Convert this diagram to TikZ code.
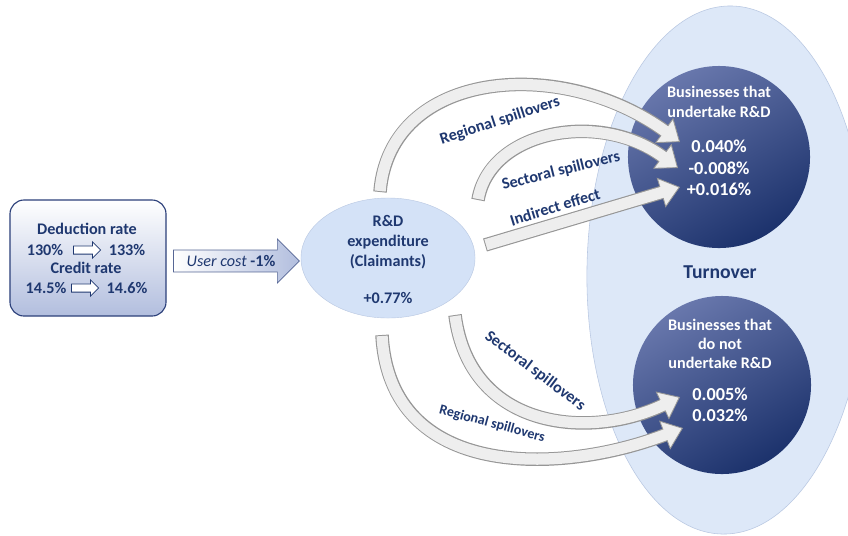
\documentclass[tikz,border=0pt]{standalone}
\usepackage{fontspec}
\setmainfont{Carlito}
\usetikzlibrary{math}
\usetikzlibrary{shapes.geometric,shapes.arrows}
\usetikzlibrary{arrows.meta,positioning}
\usepackage{xcolor}

\definecolor{navy}{RGB}{31,56,112}
\definecolor{turnfill}{RGB}{221,232,248}
\definecolor{turnline}{RGB}{185,200,226}
\definecolor{rdfill}{RGB}{212,226,247}
\definecolor{bizlight}{RGB}{104,119,172}
\definecolor{bizdark}{RGB}{28,50,108}
\definecolor{boxfill}{RGB}{178,190,222}
\definecolor{boxline}{RGB}{44,64,122}
\definecolor{arrowfill}{RGB}{238,238,238}
\definecolor{arrowline}{RGB}{150,150,150}

\newcommand{\spillarrow}[1]{%
  \draw[spill out] #1;
  \draw[spill in] #1;
}

\begin{document}
\begin{tikzpicture}[x=0.025cm,y=-0.025cm,
  font=\fontsize{11.5}{14.2}\selectfont\bfseries, text=navy]

\tikzmath{
	\D = 4.55cm;
	\d = 4.45cm;
}

\tikzset{bizcircle/.style={
    circle, minimum size=#1, inner sep=0pt,
    top color=bizlight, bottom color=bizdark, shading angle=30
  },
  bizcircle/.default=\D,
  biztext/.style={text=white, align=center, inner sep=0pt},
  spill out/.style={line width=9.6pt, draw=arrowline,
    -{Triangle[width=22pt,length=14pt,fill=arrowfill,line width=0.6pt]}},
  spill in/.style={line width=8pt, draw=arrowfill,
    shorten >=12.8pt, shorten <=0.7pt},
  spilltext/.style={inner sep=0pt},
  smallarrow/.style={single arrow, draw=navy, fill=white, line width=0.6pt,
    minimum height=0.68cm, inner xsep=0pt, inner ysep=2.6pt,
    single arrow head extend=0.1cm}
}

\useasboundingbox (0,0) rectangle (848,535);
\clip (0,0) rectangle (848,535);
\fill[white] (0,0) rectangle (848,535);

% turnover area
\node[ellipse, minimum width=7cm, minimum height=13.2cm, rotate=-1,
  fill=turnfill, draw=turnline] (turnarea) at (727,270) {};
\node[font=\fontsize{14}{16}\selectfont\bfseries] (turnover) at (720,272) {Turnover};
\node[bizcircle] (rdfirms) at (719,157) {};
\node[bizcircle=\d] (nordfirms) at (722,385) {};

% R&D expenditure
\node[ellipse, minimum width=4.35cm, minimum height=3cm,
  fill=rdfill, draw=turnline, line width=0.3pt] (rd) at (388,258) {};
\node[align=center, inner sep=0pt] (rdtext) at (388,242) {R\&D\\expenditure\\(Claimants)};
\node[inner sep=0pt] (rdval) at (388,298) {+0.77\%};

% tax rates box
\node[rounded corners=10pt, minimum width=3.9cm, minimum height=2.9cm,
  draw=boxline, line width=0.8pt, top color=white, bottom color=boxfill] (rates) at (88,258) {};
\node (dedrate) at (87,229) {Deduction rate};
\node (ded1) at (45,250) {130\%};
\node[smallarrow] (dedarrow) at (85,250) {};
\node (ded2) at (127,250) {133\%};
\node (credrate) at (86,268) {Credit rate};
\node (cred1) at (46,288) {14.5\%};
\node[smallarrow] (credarrow) at (83,288) {};
\node (cred2) at (127,288) {14.6\%};

% user cost
\node[single arrow, minimum height=3.15cm, single arrow head extend=0.28cm,
  inner ysep=3.5pt, draw=boxline!80, line width=0.5pt,
  left color=white, right color=boxfill] (usercost) at (231,261)
  {{\mdseries\itshape User cost} -1\%};

% spillover arrows
\coordinate (s1) at ([shift={(-8,-66)}]rd.center);
\coordinate (s2) at ([shift={(90,-58)}]rd.center);
\coordinate (s3) at ([shift={(97,-13)}]rd.center);
\coordinate (s4) at ([shift={(67,57)}]rd.center);
\coordinate (s5) at ([shift={(-6,77)}]rd.center);
\coordinate (e1) at ([shift={(-39,-15)}]rdfirms.center);
\coordinate (e2) at ([shift={(-41,11)}]rdfirms.center);
\coordinate (e3) at ([shift={(-39,30)}]rdfirms.center);
\coordinate (e4) at ([shift={(-42,12)}]nordfirms.center);
\coordinate (e5) at ([shift={(-39,43)}]nordfirms.center);

\spillarrow{(s1) .. controls +(10,-122) and +(-120,-87) .. (e1)}
\spillarrow{(s2) .. controls +(12,-70) and +(-78,-58) .. (e2)}
\spillarrow{(s3) -- (e3)}
\spillarrow{(s4) .. controls +(15,115) and +(-90,43) .. (e4)}
\spillarrow{(s5) .. controls +(8,145) and +(-123,47) .. (e5)}

\node[spilltext, rotate=18] (regtop) at (500,121) {Regional spillovers};
\node[spilltext, rotate=14] (sectop) at (561,171) {Sectoral spillovers};
\node[spilltext, rotate=17] (indirect) at (555,207) {Indirect effect};
\node[spilltext, rotate=-37] (secbot) at (535,371) {Sectoral spillovers};
\node[spilltext, rotate=-15, font=\fontsize{10}{12}\selectfont\bfseries] (regbot) at (492,424) {Regional spillovers};

% circle texts
\node[biztext] (rdname) at (719,102) {Businesses that\\undertake R\&D};
\node[biztext, font=\fontsize{13}{15.3}\selectfont\bfseries] (rdvals) at (719,168) {0.040\%\\-0.008\%\\+0.016\%};
\node[biztext, font=\fontsize{11.5}{13.6}\selectfont\bfseries] (nordname) at (720,344) {Businesses that\\do not\\undertake R\&D};
\node[biztext, font=\fontsize{13}{15.3}\selectfont\bfseries] (nordvals) at (720,405) {0.005\%\\0.032\%};

\end{tikzpicture}
\end{document}
